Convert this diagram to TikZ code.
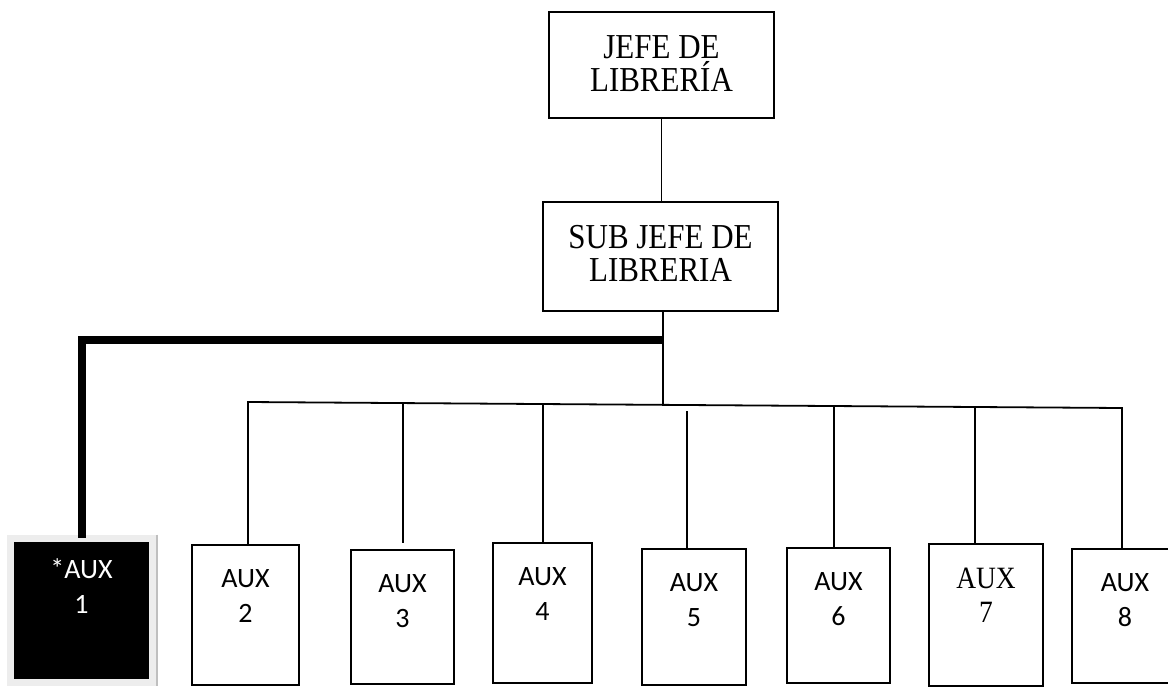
\documentclass[tikz,border=0pt]{standalone}
\usepackage{fontspec}
\setmainfont{Liberation Serif}
\newfontfamily\tallserif[FakeStretch=0.885]{Liberation Serif}
\newfontfamily\calibri{Carlito}
\usepackage{tikz}

\begin{document}
\begin{tikzpicture}[x=1pt, y=-1pt,
    box/.style={rectangle, draw, line width=1.8pt, outer sep=0pt, inner sep=0pt},
    head/.style={box, label={[anchor=north, yshift=-20pt, align=center, font=\tallserif\fontsize{35}{33}\selectfont]north:{#1}}},
    aux/.style={box, label={[anchor=north, yshift=-21pt, align=center, font=\calibri\fontsize{28}{35}\selectfont]north:{#1}}},
    auxserif/.style={box, label={[anchor=north, yshift=-20pt, align=center, font=\tallserif\fontsize{31}{34}\selectfont]north:{#1}}},
    star/.style={rectangle, fill=black, draw=black!7, line width=7pt, outer sep=0pt, inner sep=0pt,
        label={[anchor=north, yshift=-17.5pt, align=center, text=white, font=\calibri\fontsize{28}{35}\selectfont]north:{#1}}},
    line/.style={line width=1.8pt},
    heavy/.style={line width=8pt}
]
\useasboundingbox (0,0) rectangle (1168,686);

% jefatura
\node[head={JEFE DE\\LIBRERÍA}, minimum width=225pt, minimum height=106pt] (jefe) at (661.5,65) {};
\node[head={SUB JEFE DE\\LIBRERIA}, minimum width=235pt, minimum height=109pt] (subjefe) at (660.5,256.5) {};

% auxiliares
\node[star={*AUX\\1}, minimum width=142pt, minimum height=144.5pt] (aux1) at (81.5,610.25) {};
\node[aux={AUX\\2}, minimum width=107pt, minimum height=140pt] (aux2) at (245.5,615) {};
\node[aux={AUX\\3}, minimum width=103pt, minimum height=134pt] (aux3) at (402.5,617) {};
\node[aux={AUX\\4}, minimum width=99pt, minimum height=140pt] (aux4) at (542.5,613) {};
\node[aux={AUX\\5}, minimum width=104pt, minimum height=136pt] (aux5) at (694,617) {};
\node[aux={AUX\\6}, minimum width=103pt, minimum height=135pt] (aux6) at (838.5,615.5) {};
\node[auxserif={AUX\\7}, minimum width=114pt, minimum height=142pt] (aux7) at (986,615) {};
\node[aux={AUX\\8}, minimum width=106pt, minimum height=134pt] (aux8) at (1125,616) {};
\draw[black!25, line width=2pt] ([xshift=4.5pt, yshift=3.5pt]aux1.north east) -- ([xshift=4.5pt, yshift=-3.5pt]aux1.south east);

% barra de distribucion
\coordinate (busL) at (248,402);
\coordinate (hub) at (663,404.8);
\coordinate (split) at (663,340);
\coordinate (b3) at (403,403.1);
\coordinate (b4) at (543,404);
\coordinate (b5) at (687,405);
\coordinate (b6) at (834,406);
\coordinate (b7) at (975,407);
\coordinate (busR) at (1122,408);

\draw[line] (jefe.south) -- (jefe.south |- subjefe.north);
\draw[line] (hub |- subjefe.south) -- (hub);
\draw[heavy] (split) -| (aux1.north);
\draw[line] (busL |- aux2.north) -- (busL) -- (busR) -- (busR |- aux8.north);
\draw[line] (b3) -- ([yshift=7pt]b3 |- aux3.north);
\draw[line] (b4) -- (b4 |- aux4.north);
\draw[line] ([yshift=-6pt]b5) -- (b5 |- aux5.north);
\draw[line] (b6) -- (b6 |- aux6.north);
\draw[line] (b7) -- (b7 |- aux7.north);
\end{tikzpicture}
\end{document}
